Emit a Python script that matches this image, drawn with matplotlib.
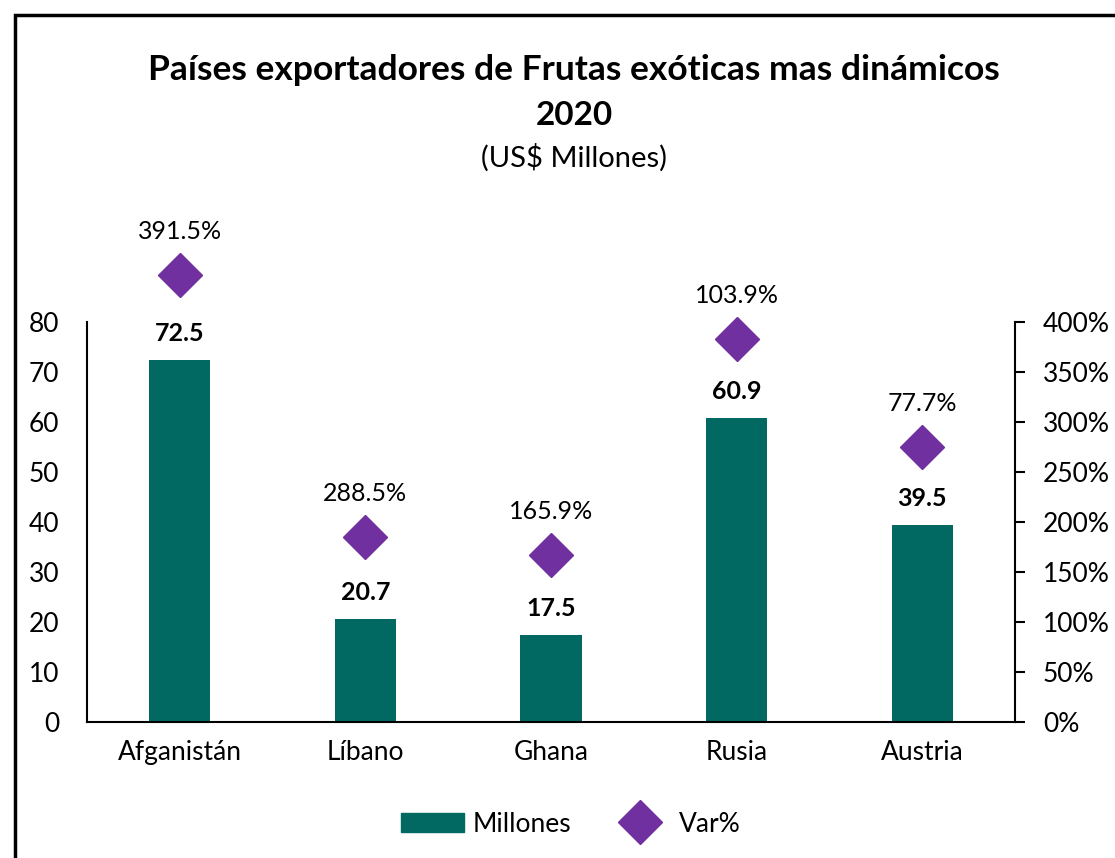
import matplotlib
matplotlib.use("Agg")
import matplotlib.pyplot as plt
from matplotlib.patches import Rectangle
from matplotlib.lines import Line2D
from matplotlib.ticker import FuncFormatter

plt.rcParams['font.family'] = ['Lato', 'DejaVu Sans']

paises = ["Afganistán", "Líbano", "Ghana", "Rusia", "Austria"]
millones = [72.5, 20.7, 17.5, 60.9, 39.5]
var_pos = [447, 185, 167, 383, 275]          # diamond positions as drawn (%)
var_labels = ["391.5%", "288.5%", "165.9%", "103.9%", "77.7%"]

BAR = "#016862"
PURP = "#7030A0"

fig = plt.figure(figsize=(11.15, 8.58), dpi=100)
W, H = 1115, 858

# outer frame (cut off on right and bottom)
fig.patches.append(Rectangle((15 / W, -0.05), 1.2, 1 - 15 / H + 0.05,
                             transform=fig.transFigure, fill=False,
                             edgecolor="black", linewidth=2.5))

ax = fig.add_axes([87 / W, 1 - 722 / H, (1015 - 87) / W, 400 / H])
x = list(range(len(paises)))
ax.bar(x, millones, width=0.33, color=BAR, zorder=2)
ax.set_xlim(-0.5, len(paises) - 0.5)
ax.set_ylim(0, 80)
ax.set_yticks(range(0, 81, 10))
ax.set_xticks(x)
ax.set_xticklabels(paises)
for s in ["top", "right"]:
    ax.spines[s].set_visible(False)
ax.spines["left"].set_linewidth(1.5)
ax.spines["bottom"].set_linewidth(1.5)
ax.tick_params(axis="y", length=0, pad=20, labelsize=19)
ax.tick_params(axis="x", length=0, pad=13, labelsize=19)

for xi, v in zip(x, millones):
    ax.annotate(f"{v:.1f}", (xi, v), xytext=(0, 19), textcoords="offset points",
                ha="center", va="center", fontsize=18, fontweight="bold",
                annotation_clip=False)

ax2 = ax.twinx()
ax2.set_ylim(0, 400)
ax2.set_yticks(range(0, 401, 50))
ax2.yaxis.set_major_formatter(FuncFormatter(lambda v, p: f"{int(v)}%"))
for s in ["top", "left", "bottom"]:
    ax2.spines[s].set_visible(False)
ax2.spines["right"].set_linewidth(1.5)
ax2.tick_params(axis="y", length=7, width=1.5, pad=13, labelsize=19, direction="out")
ax2.plot(x, var_pos, linestyle="none", marker="D", markersize=22,
         color=PURP, clip_on=False, zorder=3)
for xi, v, lab in zip(x, var_pos, var_labels):
    ax2.annotate(lab, (xi, v), xytext=(0, 31), textcoords="offset points",
                 ha="center", va="center", fontsize=18, annotation_clip=False)

fig.text(0.515, 1 - 70 / H, "Países exportadores de Frutas exóticas mas dinámicos",
         ha="center", va="center", fontsize=25.5, fontweight="bold")
fig.text(0.515, 1 - 115 / H, "2020", ha="center", va="center",
         fontsize=24, fontweight="bold")
fig.text(0.515, 1 - 158 / H, "(US$ Millones)", ha="center", va="center", fontsize=21)

handles = [Rectangle((0, 0), 1, 1, color=BAR),
           Line2D([], [], linestyle="none", marker="D", markersize=22, color=PURP)]
fig.legend(handles, ["Millones", "Var%"], loc="center",
           bbox_to_anchor=(571 / W, 1 - 824 / H), ncol=2, frameon=False,
           fontsize=19, handlelength=2.4, handleheight=0.7, columnspacing=1.4,
           handletextpad=0.3)

fig.savefig("out.png", dpi=100)
